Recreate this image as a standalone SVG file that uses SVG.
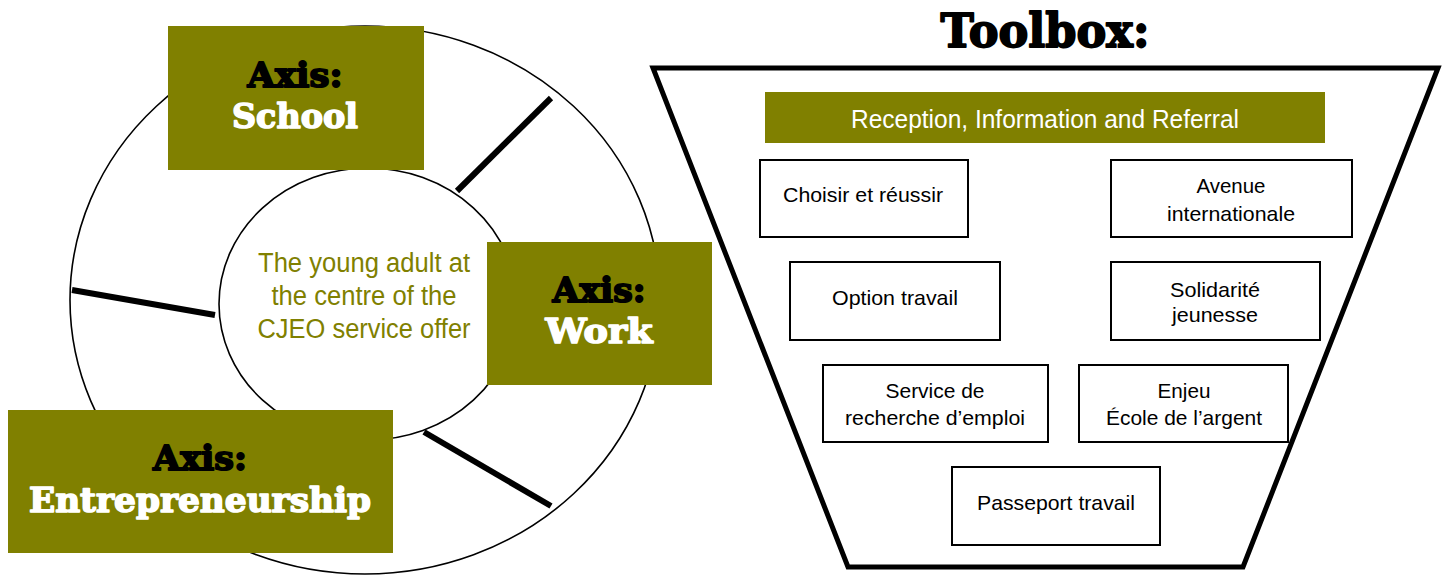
<svg xmlns="http://www.w3.org/2000/svg" width="1445" height="575" viewBox="0 0 1445 575">
  <style>
    .axis { fill: #808000; }
    .heavy { font-family: "DejaVu Serif", "Liberation Serif", serif; font-weight: bold; text-anchor: middle; stroke-linejoin: round; }
    .dark { fill: #000; stroke: #000; stroke-width: 1.8; }
    .light { fill: #fff; stroke: #fff; stroke-width: 1.6; }
    .narrow { font-family: "Liberation Sans Narrow", "Liberation Sans", Arial, sans-serif; text-anchor: middle; }
    .tool rect { fill: #fff; stroke: #000; stroke-width: 2; }
    .tool text { font-size: 21px; fill: #000; }
    .ring { fill: none; stroke: #000; stroke-width: 1.6; }
    .spoke { stroke: #000; stroke-width: 6; }
  </style>

  <!-- service wheel -->
  <g id="wheel">
    <ellipse class="ring" cx="365" cy="300" rx="295" ry="274"/>
    <ellipse class="ring" cx="368" cy="304" rx="149" ry="136"/>
  </g>

  <g id="spokes">
    <line class="spoke" x1="457" y1="191" x2="551" y2="98"/>
    <line class="spoke" x1="72" y1="290" x2="215" y2="315"/>
    <line class="spoke" x1="424" y1="432" x2="551" y2="506"/>
  </g>

  <g id="centre">
    <text class="narrow" x="364" y="272" font-size="27" fill="#808000" textLength="212" lengthAdjust="spacingAndGlyphs">The young adult at</text>
    <text class="narrow" x="364" y="305" font-size="27" fill="#808000" textLength="185" lengthAdjust="spacingAndGlyphs">the centre of the</text>
    <text class="narrow" x="364" y="338" font-size="27" fill="#808000" textLength="213" lengthAdjust="spacingAndGlyphs">CJEO service offer</text>
  </g>

  <g id="axis-school">
    <rect class="axis" x="168" y="26" width="256" height="144"/>
    <text class="heavy dark" x="295" y="87" font-size="33" textLength="95" lengthAdjust="spacingAndGlyphs">Axis:</text>
    <text class="heavy light" x="295" y="128" font-size="33" textLength="126" lengthAdjust="spacingAndGlyphs">School</text>
  </g>

  <g id="axis-work">
    <rect class="axis" x="487" y="242" width="225" height="143"/>
    <text class="heavy dark" x="599" y="302" font-size="33" textLength="93" lengthAdjust="spacingAndGlyphs">Axis:</text>
    <text class="heavy light" x="599" y="343" font-size="33" textLength="107" lengthAdjust="spacingAndGlyphs">Work</text>
  </g>

  <g id="axis-entrepreneurship">
    <rect class="axis" x="8" y="410" width="385" height="143"/>
    <text class="heavy dark" x="200" y="470" font-size="33" textLength="94" lengthAdjust="spacingAndGlyphs">Axis:</text>
    <text class="heavy light" x="200" y="512" font-size="33" textLength="342" lengthAdjust="spacingAndGlyphs">Entrepreneurship</text>
  </g>

  <!-- toolbox funnel -->
  <g id="toolbox">
    <text class="heavy dark" x="1045" y="47" font-size="46" stroke-width="2.4" textLength="209" lengthAdjust="spacingAndGlyphs">Toolbox:</text>
    <polygon points="653,68 1438,68 1243,567 848,567" fill="#fff" stroke="#000" stroke-width="5" stroke-linejoin="miter"/>
  </g>

  <g id="reception">
    <rect class="axis" x="765" y="92" width="560" height="51"/>
    <text class="narrow" x="1045" y="128" font-size="25" fill="#fff" textLength="388" lengthAdjust="spacingAndGlyphs">Reception, Information and Referral</text>
  </g>

  <g id="choisir" class="tool">
    <rect x="760" y="160" width="208" height="77"/>
    <text class="narrow" x="863" y="202" textLength="160" lengthAdjust="spacingAndGlyphs">Choisir et réussir</text>
  </g>

  <g id="avenue" class="tool">
    <rect x="1111" y="160" width="241" height="77"/>
    <text class="narrow" x="1231" y="193" textLength="69" lengthAdjust="spacingAndGlyphs">Avenue</text>
    <text class="narrow" x="1231" y="221" textLength="128" lengthAdjust="spacingAndGlyphs">internationale</text>
  </g>

  <g id="option" class="tool">
    <rect x="790" y="262" width="210" height="78"/>
    <text class="narrow" x="895" y="305" textLength="126" lengthAdjust="spacingAndGlyphs">Option travail</text>
  </g>

  <g id="solidarite" class="tool">
    <rect x="1111" y="262" width="209" height="78"/>
    <text class="narrow" x="1215" y="297" textLength="90" lengthAdjust="spacingAndGlyphs">Solidarité</text>
    <text class="narrow" x="1215" y="322" textLength="86" lengthAdjust="spacingAndGlyphs">jeunesse</text>
  </g>

  <g id="service" class="tool">
    <rect x="823" y="365" width="225" height="77"/>
    <text class="narrow" x="935" y="398" textLength="99" lengthAdjust="spacingAndGlyphs">Service de</text>
    <text class="narrow" x="935" y="425" textLength="180" lengthAdjust="spacingAndGlyphs">recherche d’emploi</text>
  </g>

  <g id="enjeu" class="tool">
    <rect x="1079" y="365" width="209" height="77"/>
    <text class="narrow" x="1184" y="398" textLength="53" lengthAdjust="spacingAndGlyphs">Enjeu</text>
    <text class="narrow" x="1184" y="425" textLength="156" lengthAdjust="spacingAndGlyphs">École de l’argent</text>
  </g>

  <g id="passeport" class="tool">
    <rect x="952" y="467" width="208" height="78"/>
    <text class="narrow" x="1056" y="510" textLength="158" lengthAdjust="spacingAndGlyphs">Passeport travail</text>
  </g>
</svg>
